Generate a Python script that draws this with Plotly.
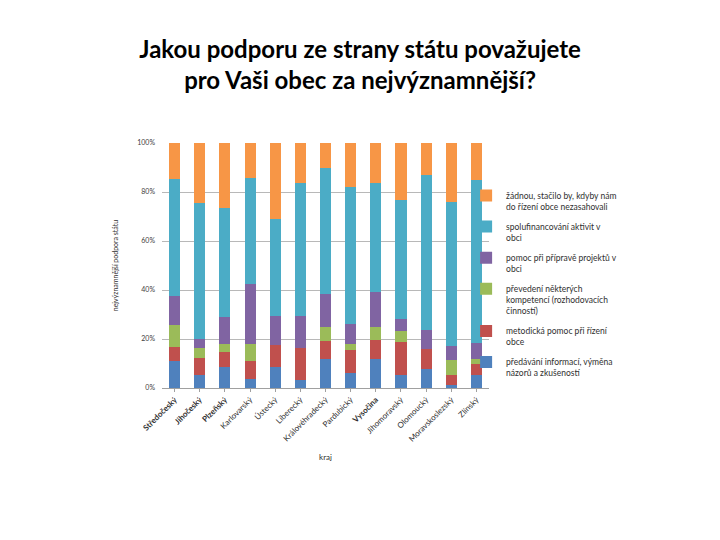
import plotly.graph_objects as go

categories = ["Středočeský", "Jihočeský", "Plzeňský", "Karlovarský", "Ústecký", "Liberecký",
              "Královéhradecký", "Pardubický", "Vysočina", "Jihomoravský", "Olomoucký",
              "Moravskoslezský", "Zlínský"]
bold_cats = ["Středočeský", "Jihočeský", "Plzeňský", "Vysočina"]

informace = [10.9, 5.2, 8.4, 3.7, 8.6, 3.1, 11.7, 6.1, 11.7, 5.3, 7.6, 1.4, 5.2]
metodicka = [5.7, 6.9, 6.3, 7.2, 8.8, 13.2, 7.5, 9.5, 8.0, 13.6, 8.5, 4.0, 4.7]
kompetence = [9.3, 4.2, 3.4, 7.1, 0.0, 0.0, 5.8, 2.5, 5.2, 4.5, 0.0, 6.2, 1.9]
projekty = [11.8, 3.8, 10.7, 24.6, 11.9, 13.0, 13.2, 7.9, 14.4, 4.9, 7.4, 5.4, 6.4]
spolufin = [47.6, 55.5, 44.8, 43.3, 39.8, 54.5, 51.7, 56.2, 44.5, 48.6, 63.6, 59.1, 66.8]
zadnou = [14.7, 24.4, 26.4, 14.1, 30.9, 16.2, 10.1, 17.8, 16.2, 23.1, 12.9, 23.9, 15.0]

series = [
    ("předávání informací, výměna<br>názorů a zkušeností", informace, "#4F81BD"),
    ("metodická pomoc při řízení<br>obce", metodicka, "#C0504D"),
    ("převedení některých<br>kompetencí (rozhodovacích<br>činností)", kompetence, "#9BBB59"),
    ("pomoc při přípravě projektů v<br>obci", projekty, "#8064A2"),
    ("spolufinancování aktivit v<br>obci", spolufin, "#4BACC6"),
    ("žádnou, stačilo by, kdyby nám<br>do řízení obce nezasahovali", zadnou, "#F79646"),
]

fig = go.Figure()
n = len(series)
for i, (name, vals, color) in enumerate(series):
    fig.add_trace(go.Bar(x=categories, y=vals, name=name, marker_color=color,
                         marker_line_width=0, legendgroup=str(i), legendrank=n - i))

ticktext = [f"<b>{c}</b>" if c in bold_cats else c for c in categories]

fig.update_layout(
    width=720, height=540,
    barmode="stack", bargap=0.56,
    paper_bgcolor="white", plot_bgcolor="white",
    font=dict(family="Lato, Open Sans, sans-serif", color="#404040", size=8),
    title=dict(text="<b>Jakou podporu ze strany státu považujete<br>pro Vaši obec za nejvýznamnější?</b>",
               x=0.489, xanchor="center", y=0.908, yanchor="top",
               font=dict(size=24, color="#000000", family="Lato, Open Sans, sans-serif")),
    margin=dict(l=154, r=239, t=135, b=160),
    xaxis=dict(tickmode="array", tickvals=categories, ticktext=ticktext, tickangle=-45,
               tickfont=dict(size=8, color="#303030"), showline=True, linecolor="#a0a0a0",
               ticks="outside", ticklen=3, tickcolor="#a0a0a0", showgrid=False,
               title=dict(text="kraj", font=dict(size=8, color="#303030"), standoff=11)),
    yaxis=dict(range=[0, 100], tickvals=[0, 20, 40, 60, 80, 100],
               ticktext=["0%", "20%", "40%", "60%", "80%", "100%"],
               tickfont=dict(size=7, color="#404040"), showgrid=True, gridcolor="#b8b8b8",
               gridwidth=1, zeroline=False, showline=False, ticklabelstandoff=6,
               title=dict(text="nejvýznamnější podpora státu", font=dict(size=7, color="#303030"),
                          standoff=17)),
    legend=dict(x=0.93, xanchor="left", y=0.835, yanchor="top", traceorder="grouped",
                tracegroupgap=6, valign="top", font=dict(size=8.5, color="#303030"),
                bgcolor="rgba(0,0,0,0)", itemwidth=30),
)

fig.write_html("out.html")
